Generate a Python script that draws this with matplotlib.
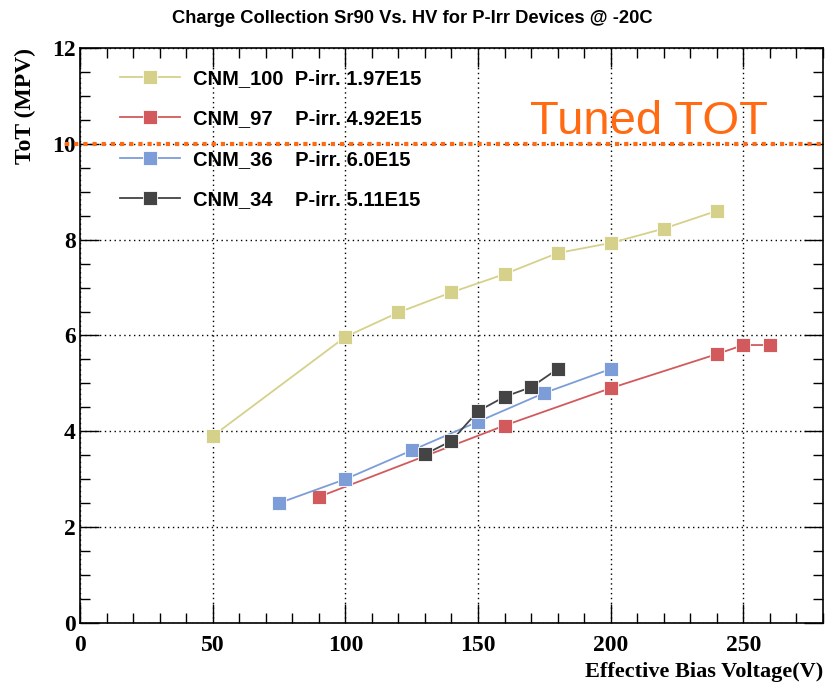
#!/usr/bin/env python3
# -*- coding: utf-8 -*-

import numpy as np
import matplotlib
matplotlib.use('Agg')
import matplotlib.pyplot as plt
from matplotlib.ticker import MultipleLocator

# data
v_100 = [50, 100, 120, 140, 160, 180, 200, 220, 240]
tot_100 = [3.9, 5.97, 6.48, 6.9, 7.28, 7.72, 7.93, 8.23, 8.6]

v_97 = [90, 160, 200, 240, 250, 260]
tot_97 = [2.63, 4.12, 4.9, 5.61, 5.8, 5.8]

v_36 = [75, 100, 125, 150, 175, 200]
tot_36 = [2.5, 3.0, 3.6, 4.2, 4.8, 5.3]

v_34 = [130, 140, 150, 160, 170, 180]
tot_34 = [3.52, 3.8, 4.42, 4.72, 4.92, 5.3]

names = ['CNM_100', 'CNM_97', 'CNM_36', 'CNM_34']
fluence = ['P-irr. 1.97E15', 'P-irr. 4.92E15', 'P-irr. 6.0E15', 'P-irr. 5.11E15']
colors = ['#d6d18a', '#d25a5c', '#7c9dd8', '#444444']

tuned_tot = 10

serif = 'Liberation Serif'
sans = 'Liberation Sans'


def make_plot():
    fig = plt.figure(figsize=(8.25, 6.86), dpi=100)
    ax = fig.add_axes([0.097, 0.092, 0.9005, 0.838])

    series = [(v_100, tot_100), (v_97, tot_97), (v_36, tot_36), (v_34, tot_34)]
    handles = []
    for (x, y), c, n in zip(series, colors, names):
        h, = ax.plot(x, y, '-s', c=c, lw=1.3, ms=10, mec='white', mew=0.6,
                     label=n, zorder=3)
        handles.append(h)

    ax.axhline(tuned_tot, xmin=-0.02, xmax=1, color='#ff6a13', lw=3,
               ls=(0, (1, 1.2)), clip_on=False, zorder=4)
    ax.text(0.606, 0.85, 'Tuned TOT', transform=ax.transAxes,
            color='#ff6a13', fontsize=34, family=sans, va='baseline')

    ax.set_xlim(0, 280)
    ax.set_ylim(0, 12)
    ax.xaxis.set_major_locator(MultipleLocator(50))
    ax.xaxis.set_minor_locator(MultipleLocator(10))
    ax.yaxis.set_major_locator(MultipleLocator(2))
    ax.yaxis.set_minor_locator(MultipleLocator(0.5))
    ax.tick_params(which='both', direction='in', top=True, right=True,
                   width=1)
    ax.tick_params(which='major', length=14)
    ax.tick_params(which='minor', length=7)
    ax.tick_params(axis='x', pad=9)
    ax.tick_params(axis='y', pad=3)
    for lab in ax.get_xticklabels() + ax.get_yticklabels():
        lab.set_family(serif)
        lab.set_fontweight('bold')
        lab.set_fontsize(17)
    for s in ax.spines.values():
        s.set_linewidth(1.2)
    ax.grid(which='major', color='black', ls=(0, (1, 2.5)), lw=1)

    ax.set_xlabel('Effective Bias Voltage(V)', family=serif,
                  fontweight='bold', fontsize=16, loc='right', labelpad=4)
    ax.set_ylabel('ToT (MPV)', family=serif, fontweight='bold',
                  fontsize=17, loc='top', labelpad=12)
    fig.suptitle('Charge Collection Sr90 Vs. HV for P-Irr Devices @ -20C',
                 family=sans, fontweight='bold', fontsize=13.2, y=0.985)

    # pad names so the fluence column lines up (2 spaces = 1 digit)
    width = max(len(n) for n in names)
    labels = [n + ' ' * (2 + 2 * (width - len(n))) + f
              for n, f in zip(names, fluence)]
    ax.legend(handles=handles, labels=labels, loc='upper left',
              bbox_to_anchor=(0.043, 0.977), handlelength=3.0,
              handletextpad=0.6, frameon=False, labelspacing=1.05,
              borderaxespad=0,
              prop={'family': sans, 'weight': 'bold', 'size': 14.5})

    fig.savefig('out.png', dpi=100)
    plt.close('all')


if __name__ == '__main__':
    make_plot()
